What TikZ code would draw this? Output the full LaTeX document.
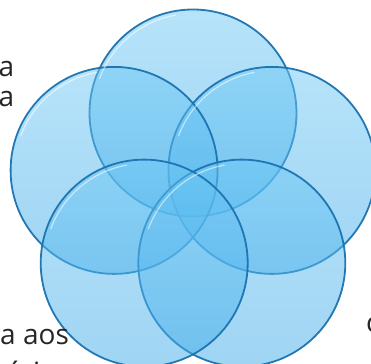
\documentclass[tikz,border=0pt]{standalone}
\usepackage{fontspec}
\setmainfont{Open Sans}
\definecolor{cTop}{HTML}{6EC8F5}
\definecolor{cBot}{HTML}{3FAAE8}
\definecolor{cEdge}{HTML}{1A72B0}
\begin{document}
\begin{tikzpicture}[x=1pt,y=1pt,
  petal/.style={circle, minimum size=207pt, inner sep=0pt,
    top color=cTop, bottom color=cBot, fill opacity=0.5,
    draw=cEdge, draw opacity=0.95, line width=1.8pt},
  gloss/.style={white, line width=1.2pt, opacity=0.55},
  lbl/.style={inner sep=0pt, font=\fontsize{28}{31}\selectfont, text=black!85}]
\useasboundingbox (0,0) rectangle (371,363);
\clip (0,0) rectangle (371,363);
\node[petal] (top) at (193,250) {};
\node[petal] (right) at (271.9,192.6) {};
\node[petal] (left) at (114.1,192.6) {};
\node[petal] (bright) at (241.8,99.9) {};
\node[petal] (bleft) at (144.2,99.9) {};
\foreach \c in {top,right,left,bright,bleft}{
  \draw[gloss] (\c.center) ++(100:99.5) arc[start angle=100, end angle=160, radius=99.5];
}
\node[lbl, anchor=base east] (t1) at (14.5,286) {a};
\node[lbl, anchor=base east] (t2) at (14.5,256) {a};
\node[lbl, anchor=base west] (t3) at (0,18) {a aos};
\node[lbl, anchor=base west] (t4) at (6,-19) {ários};
\node[lbl, anchor=base west] (t5) at (366,30) {c};
\end{tikzpicture}
\end{document}
